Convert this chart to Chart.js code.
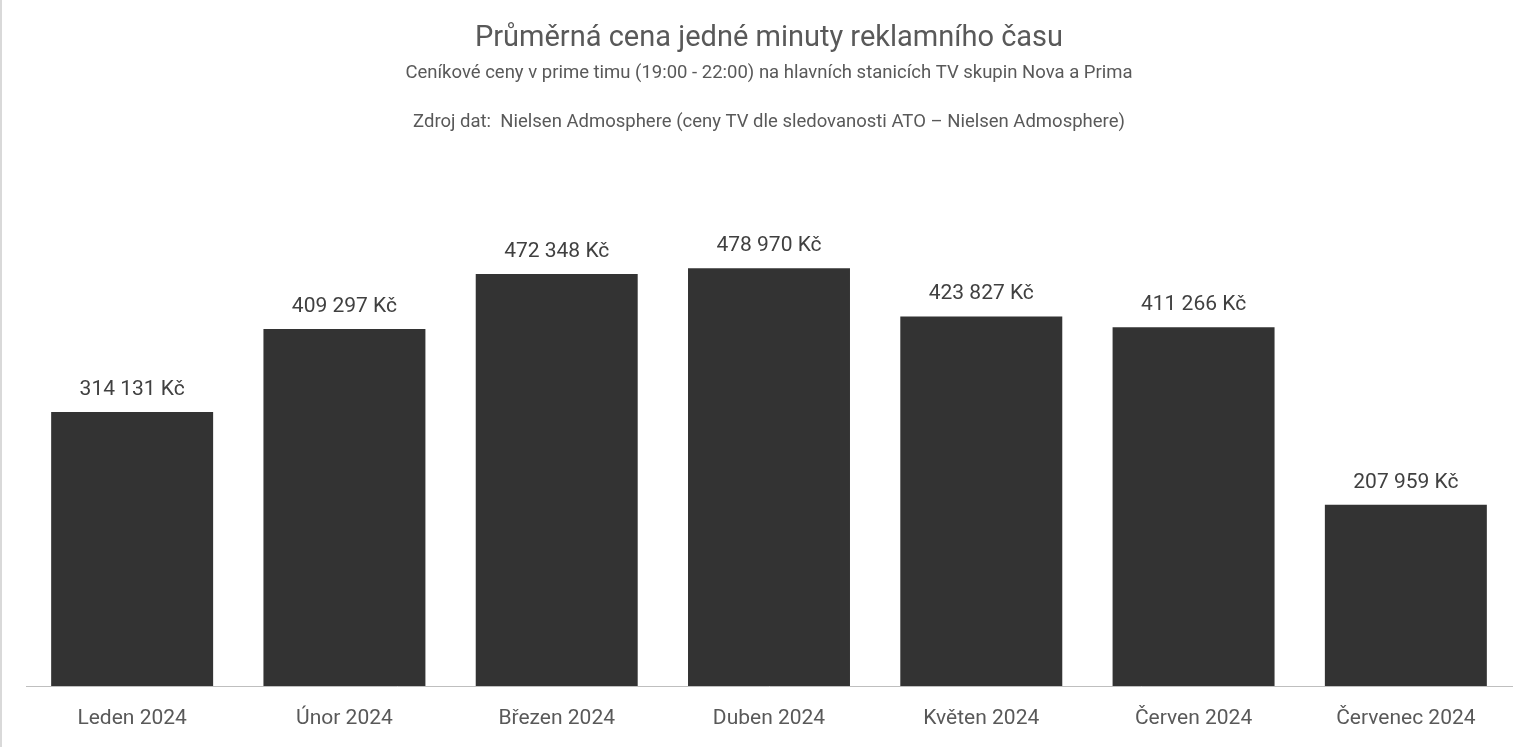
<!DOCTYPE html>
<html>
<head>
<meta charset="utf-8">
<script src="https://cdn.jsdelivr.net/npm/chart.js@4"></script>
<style>
  html, body { margin: 0; padding: 0; background: #fff; overflow: hidden; }
  #wrap { position: relative; width: 1536px; height: 747px; box-sizing: border-box; border-left: 2px solid #d9d9d9; }
</style>
</head>
<body>
<div id="wrap"><canvas id="myChart"></canvas></div>
<script>
// data
let months = ["Leden 2024", "Únor 2024", "Březen 2024", "Duben 2024", "Květen 2024", "Červen 2024", "Červenec 2024"]
let prices = [314131, 409297, 472348, 478970, 423827, 411266, 207959]

let titleText = "Průměrná cena jedné minuty reklamního času"
let subtitleLines = [
    "Ceníkové ceny v prime timu (19:00 - 22:00) na hlavních stanicích TV skupin Nova a Prima",
    "",
    "Zdroj dat:  Nielsen Admosphere (ceny TV dle sledovanosti ATO – Nielsen Admosphere)"
]

let fontFamily = "Roboto, 'Open Sans', sans-serif"

function formatKc(value) {
    return String(value).replace(/\B(?=(\d{3})+(?!\d))/g, " ") + " Kč"
}

// value labels above the bars
let valueLabels = {
    id: "valueLabels",
    afterDatasetsDraw(chart) {
        let ctx = chart.ctx
        let meta = chart.getDatasetMeta(0)
        ctx.save()
        ctx.font = "21px " + fontFamily
        ctx.fillStyle = "#404040"
        ctx.textAlign = "center"
        ctx.textBaseline = "alphabetic"
        meta.data.forEach((bar, i) => {
            ctx.fillText(formatKc(chart.data.datasets[0].data[i]), bar.x, bar.y - 17)
        })
        ctx.restore()
    }
}

let data = {
    labels: months,
    datasets: [{
        data: prices,
        backgroundColor: "#333333",
        barPercentage: 0.763,
        categoryPercentage: 1.0,
    }],
}

let config = {
    type: "bar",
    data: data,
    options: {
        responsive: true,
        maintainAspectRatio: false,
        animation: false,
        layout: {
            padding: { left: 24, right: 24, top: 0, bottom: -4 },
        },
        plugins: {
            legend: { display: false },
            tooltip: { enabled: false },
            title: {
                display: true,
                text: titleText,
                color: "#595959",
                font: { family: fontFamily, size: 29, weight: "normal", lineHeight: 1.2 },
                padding: { top: 21, bottom: 6 },
            },
            subtitle: {
                display: true,
                text: subtitleLines,
                color: "#595959",
                font: { family: fontFamily, size: 18.5, weight: "normal", lineHeight: 1.3 },
                padding: { top: 0, bottom: 116 },
            },
        },
        scales: {
            x: {
                grid: { display: false, drawTicks: false },
                border: { color: "#bfbfbf", width: 1 },
                ticks: {
                    color: "#595959",
                    padding: 22,
                    font: { family: fontFamily, size: 21, lineHeight: 1.0 },
                },
            },
            y: {
                display: false,
                min: 0,
                max: 500000,
            },
        },
    },
    plugins: [valueLabels],
}

let myChart = new Chart(document.getElementById("myChart").getContext("2d"), config)
</script>
</body>
</html>
